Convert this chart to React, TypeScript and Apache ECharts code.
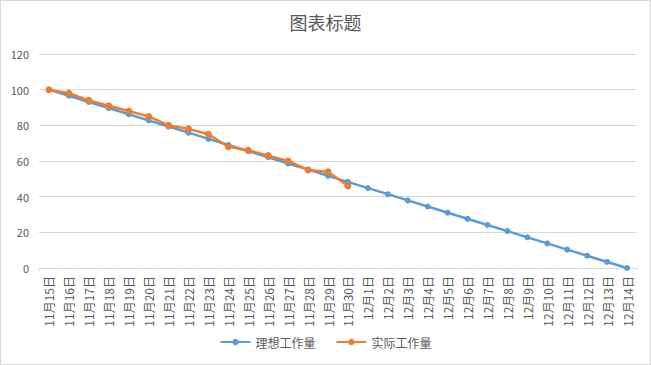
import React, { useEffect, useRef } from "react";
import * as echarts from "echarts";

const categories = [
  "11月15日", "11月16日", "11月17日", "11月18日", "11月19日", "11月20日",
  "11月21日", "11月22日", "11月23日", "11月24日", "11月25日", "11月26日",
  "11月27日", "11月28日", "11月29日", "11月30日", "12月1日", "12月2日",
  "12月3日", "12月4日", "12月5日", "12月6日", "12月7日", "12月8日",
  "12月9日", "12月10日", "12月11日", "12月12日", "12月13日", "12月14日",
];

const idealWork = [
  100, 96.6, 93.1, 89.7, 86.2, 82.8, 79.3, 75.9, 72.4, 69.0,
  65.5, 62.1, 58.6, 55.2, 51.7, 48.3, 44.8, 41.4, 37.9, 34.5,
  31.0, 27.6, 24.1, 20.7, 17.2, 13.8, 10.3, 6.9, 3.4, 0,
];

const actualWork = [
  100, 98, 94, 91, 88, 85, 80, 78, 75, 68, 66, 63, 60, 55, 54, 46,
];

const yTicks = { min: 0, max: 120, interval: 20 };

export default function App() {
  const ref = useRef<HTMLDivElement>(null);
  useEffect(() => {
    if (!ref.current) return;
    const chart = echarts.init(ref.current, undefined, { renderer: "svg" });
    const font = "'Microsoft YaHei', 'Noto Sans CJK SC', sans-serif";
    chart.setOption({
      animation: false,
      backgroundColor: "#ffffff",
      title: {
        text: "图表标题",
        left: "center",
        top: 7,
        textStyle: { fontSize: 18, fontWeight: "normal", color: "#595959", fontFamily: font },
      },
      grid: { left: 38, right: 13, top: 53, bottom: 96, containLabel: false },
      legend: {
        bottom: 11,
        left: "center",
        itemWidth: 30,
        itemHeight: 8,
        itemGap: 20,
        textStyle: { fontSize: 12, color: "#595959", fontFamily: font },
        data: ["理想工作量", "实际工作量"],
      },
      xAxis: {
        type: "category",
        data: categories,
        boundaryGap: true,
        axisLine: { lineStyle: { color: "#d9d9d9" } },
        axisTick: { show: true, lineStyle: { color: "#e6e6e6" }, length: 3 },
        axisLabel: {
          rotate: 90,
          interval: 0,
          fontSize: 12,
          color: "#595959",
          fontFamily: font,
          margin: 8,
        },
      },
      yAxis: {
        type: "value",
        min: yTicks.min,
        max: yTicks.max,
        interval: yTicks.interval,
        axisLine: { show: false },
        axisTick: { show: false },
        axisLabel: { fontSize: 11, color: "#595959", fontFamily: font, margin: 10 },
        splitLine: { lineStyle: { color: "#d9d9d9" } },
      },
      series: [
        {
          name: "理想工作量",
          type: "line",
          data: idealWork,
          symbol: "circle",
          symbolSize: 6,
          color: "#5B9BD5",
          lineStyle: { width: 2.5, color: "#5B9BD5" },
          itemStyle: { color: "#5B9BD5" },
        },
        {
          name: "实际工作量",
          type: "line",
          data: actualWork,
          symbol: "circle",
          symbolSize: 7,
          color: "#ED7D31",
          lineStyle: { width: 2.5, color: "#ED7D31" },
          itemStyle: { color: "#ED7D31" },
        },
      ],
    });
    return () => chart.dispose();
  }, []);
  return (
    <div
      style={{
        position: "absolute",
        left: 0,
        top: 0,
        width: 651,
        height: 365,
        boxSizing: "border-box",
        border: "1px solid #d9d9d9",
        background: "#fff",
      }}
    >
      <div ref={ref} style={{ width: 649, height: 363 }} />
    </div>
  );
}
